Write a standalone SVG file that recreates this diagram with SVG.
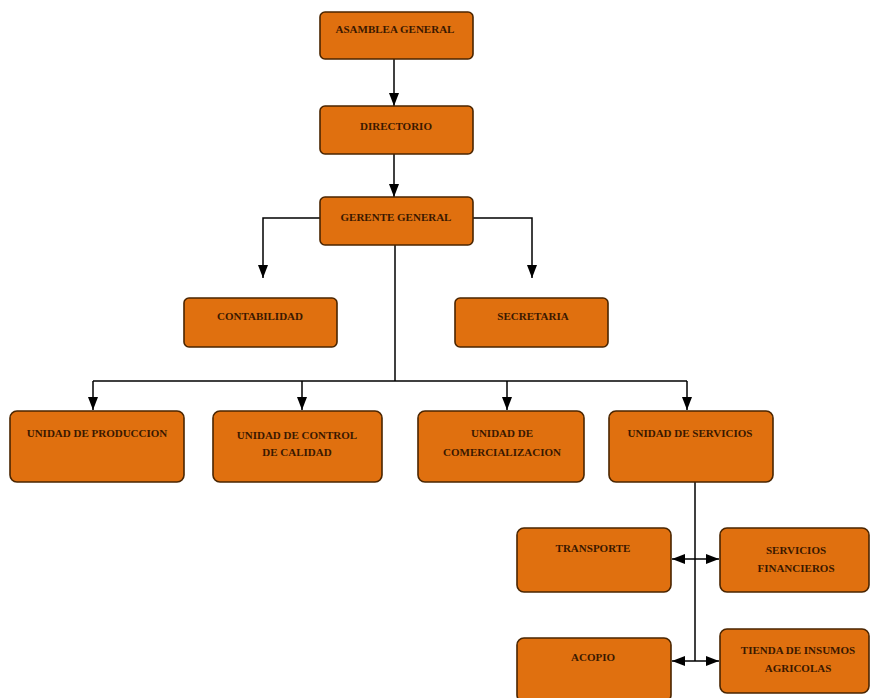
<svg xmlns="http://www.w3.org/2000/svg" width="870" height="698" viewBox="0 0 870 698">
<defs>
<marker id="ah" viewBox="0 0 13 10" refX="13" refY="5" markerWidth="13" markerHeight="10" orient="auto-start-reverse" markerUnits="userSpaceOnUse">
<path d="M0,0 L13,5 L0,10 z" fill="#000"/>
</marker>
<style>
.box{fill:#E0700F;stroke:#4a2500;stroke-width:1.6}
.t{font-family:"Liberation Serif","Times New Roman",serif;font-size:11px;fill:#3a1800;text-anchor:middle;font-weight:bold}
.c{stroke:#000;stroke-width:1.5;fill:none}
</style>
</defs>
<rect width="870" height="698" fill="#fff"/>
<g id="connectors">
<path class="c" d="M394,59 V106" marker-end="url(#ah)"/>
<path class="c" d="M394,154 V197" marker-end="url(#ah)"/>
<path class="c" d="M320,218 H263 V278" marker-end="url(#ah)"/>
<path class="c" d="M473,218 H532 V278" marker-end="url(#ah)"/>
<path class="c" d="M395,245 V381"/>
<path class="c" d="M93,381 H687"/>
<path class="c" d="M93,381 V410" marker-end="url(#ah)"/>
<path class="c" d="M302,381 V410" marker-end="url(#ah)"/>
<path class="c" d="M507,381 V410" marker-end="url(#ah)"/>
<path class="c" d="M687,381 V410" marker-end="url(#ah)"/>
<path class="c" d="M695,482 V661"/>
<path class="c" d="M695,559 H672" marker-end="url(#ah)"/>
<path class="c" d="M695,559 H719" marker-end="url(#ah)"/>
<path class="c" d="M695,661 H672" marker-end="url(#ah)"/>
<path class="c" d="M695,661 H719" marker-end="url(#ah)"/>
</g>
<g id="asamblea"><rect class="box" x="320" y="12" width="153" height="47" rx="5"/><text class="t" x="395" y="33">ASAMBLEA GENERAL</text></g>
<g id="directorio"><rect class="box" x="320" y="106" width="153" height="48" rx="5"/><text class="t" x="396" y="130">DIRECTORIO</text></g>
<g id="gerente"><rect class="box" x="320" y="197" width="153" height="48" rx="5"/><text class="t" x="396" y="221">GERENTE GENERAL</text></g>
<g id="contabilidad"><rect class="box" x="184" y="298" width="153" height="49" rx="5"/><text class="t" x="260" y="320">CONTABILIDAD</text></g>
<g id="secretaria"><rect class="box" x="455" y="298" width="153" height="49" rx="5"/><text class="t" x="533" y="320">SECRETARIA</text></g>
<g id="produccion"><rect class="box" x="10" y="411" width="174" height="71" rx="7"/><text class="t" x="97" y="437">UNIDAD DE PRODUCCION</text></g>
<g id="control"><rect class="box" x="213" y="411" width="169" height="71" rx="7"/><text class="t" x="297" y="439">UNIDAD DE CONTROL</text><text class="t" x="297" y="456">DE CALIDAD</text></g>
<g id="comercializacion"><rect class="box" x="418" y="411" width="166" height="71" rx="7"/><text class="t" x="502" y="437">UNIDAD DE</text><text class="t" x="502" y="456">COMERCIALIZACION</text></g>
<g id="servicios"><rect class="box" x="609" y="411" width="164" height="71" rx="7"/><text class="t" x="690" y="437">UNIDAD DE SERVICIOS</text></g>
<g id="transporte"><rect class="box" x="517" y="528" width="154" height="64" rx="7"/><text class="t" x="593" y="552">TRANSPORTE</text></g>
<g id="financieros"><rect class="box" x="720" y="528" width="149" height="64" rx="7"/><text class="t" x="796" y="554">SERVICIOS</text><text class="t" x="796" y="572">FINANCIEROS</text></g>
<g id="acopio"><rect class="box" x="517" y="638" width="154" height="64" rx="7"/><text class="t" x="593" y="661">ACOPIO</text></g>
<g id="tienda"><rect class="box" x="720" y="629" width="149" height="64" rx="7"/><text class="t" x="798" y="654">TIENDA DE INSUMOS</text><text class="t" x="798" y="672">AGRICOLAS</text></g>
</svg>
